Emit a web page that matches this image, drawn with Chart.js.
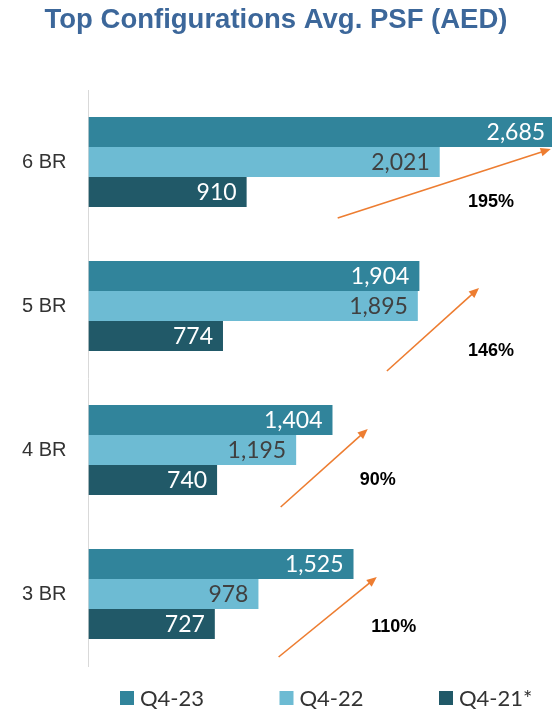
<!DOCTYPE html>
<html>
<head>
<meta charset="utf-8">
<script src="https://cdn.jsdelivr.net/npm/chart.js@4.4.0/dist/chart.umd.min.js"></script>
<style>
html, body { margin: 0; padding: 0; background: #fff; }
#wrap { width: 552px; height: 713px; }
</style>
</head>
<body>
<div id="wrap"><canvas id="psfChart"></canvas></div>
<script>
// chart data
const categories = ["6 BR", "5 BR", "4 BR", "3 BR"];
const q423 = [2685, 1904, 1404, 1525];
const q422 = [2021, 1895, 1195, 978];
const q421 = [910, 774, 740, 727];
const growth = ["195%", "146%", "90%", "110%"];
const seriesNames = ["Q4-23", "Q4-22", "Q4-21*"];

const colors = ["#31849B", "#6DBBD3", "#215968"];
const labelColors = ["#ffffff", "#404040", "#ffffff"];

// arrow placement per category: [startValue, startDy, tipValue, tipDy, textValue, textDy]
const arrowPos = [
    [1434, 56, 2660, -13, 2316, 40],
    [1717, 65, 2247, -18, 2316, 45],
    [1106, 57, 1607, -21, 1665, 30],
    [1094, 63, 1659, -17, 1757, 33]
];

const valueLabels = {
    id: "valueLabels",
    afterDatasetsDraw(chart) {
        const ctx = chart.ctx;
        ctx.save();
        ctx.font = "23px Lato, 'Open Sans', sans-serif";
        ctx.textAlign = "right";
        ctx.textBaseline = "middle";
        chart.data.datasets.forEach((ds, i) => {
            const meta = chart.getDatasetMeta(i);
            meta.data.forEach((bar, j) => {
                ctx.fillStyle = labelColors[i];
                ctx.fillText(ds.data[j].toLocaleString("en-US"), bar.x - 10, bar.y + 1);
            });
        });
        ctx.restore();
    }
};

const growthArrows = {
    id: "growthArrows",
    afterDatasetsDraw(chart) {
        const ctx = chart.ctx;
        const xs = chart.scales.x;
        const ys = chart.scales.y;
        ctx.save();
        arrowPos.forEach((a, i) => {
            const cy = ys.getPixelForValue(i);
            const x1 = xs.getPixelForValue(a[0]), y1 = cy + a[1];
            const x2 = xs.getPixelForValue(a[2]), y2 = cy + a[3];
            const ang = Math.atan2(y2 - y1, x2 - x1);
            const head = 11;
            ctx.strokeStyle = "#ED7D31";
            ctx.fillStyle = "#ED7D31";
            ctx.lineWidth = 1.6;
            ctx.beginPath();
            ctx.moveTo(x1, y1);
            ctx.lineTo(x2 - head * 0.8 * Math.cos(ang), y2 - head * 0.8 * Math.sin(ang));
            ctx.stroke();
            ctx.beginPath();
            ctx.moveTo(x2, y2);
            ctx.lineTo(x2 - head * Math.cos(ang - 0.4), y2 - head * Math.sin(ang - 0.4));
            ctx.lineTo(x2 - head * Math.cos(ang + 0.4), y2 - head * Math.sin(ang + 0.4));
            ctx.closePath();
            ctx.fill();

            ctx.fillStyle = "#000000";
            ctx.font = "bold 18px 'Liberation Sans', Arial, sans-serif";
            ctx.textAlign = "center";
            ctx.textBaseline = "middle";
            ctx.fillText(growth[i], xs.getPixelForValue(a[4]), cy + a[5]);
        });
        ctx.restore();
    }
};

// legend drawn by hand so the items can sit evenly spaced like the original
const bottomLegend = {
    id: "bottomLegend",
    afterDraw(chart) {
        const ctx = chart.ctx;
        const y = 698;
        ctx.save();
        ctx.font = "22px Lato, 'Open Sans', sans-serif";
        ctx.textBaseline = "middle";
        ctx.textAlign = "left";
        chart.data.datasets.forEach((ds, i) => {
            const x = 120 + i * 159.5;
            ctx.fillStyle = ds.backgroundColor;
            ctx.fillRect(x, y - 7, 14, 14);
            ctx.fillStyle = "#333333";
            ctx.fillText(ds.label, x + 20, y + 1);
        });
        ctx.restore();
    }
};

const seriesData = [q423, q422, q421];

new Chart(document.getElementById("psfChart"), {
    type: "bar",
    data: {
        labels: categories,
        datasets: seriesData.map((d, i) => ({
            label: seriesNames[i],
            data: d,
            backgroundColor: colors[i],
            borderWidth: 0,
            categoryPercentage: 0.625,
            barPercentage: 1
        }))
    },
    options: {
        indexAxis: "y",
        responsive: true,
        maintainAspectRatio: false,
        animation: false,
        layout: { padding: { left: 0, right: 0, top: 0, bottom: 47 } },
        scales: {
            x: {
                display: false,
                min: 0,
                max: 2667
            },
            y: {
                grid: { display: false, drawTicks: false },
                border: { display: true, color: "#D9D9D9", width: 1 },
                ticks: {
                    color: "#333333",
                    padding: 22,
                    font: { family: "'Liberation Sans', Arial, sans-serif", size: 20 }
                }
            }
        },
        plugins: {
            title: {
                display: true,
                text: "Top Configurations Avg. PSF (AED)",
                color: "#3C679A",
                font: { family: "'Liberation Sans', Arial, sans-serif", size: 27.5, weight: "bold" },
                padding: { top: 4, bottom: 53 }
            },
            legend: { display: false },
            tooltip: { enabled: false }
        }
    },
    plugins: [valueLabels, growthArrows, bottomLegend]
});
</script>
</body>
</html>
